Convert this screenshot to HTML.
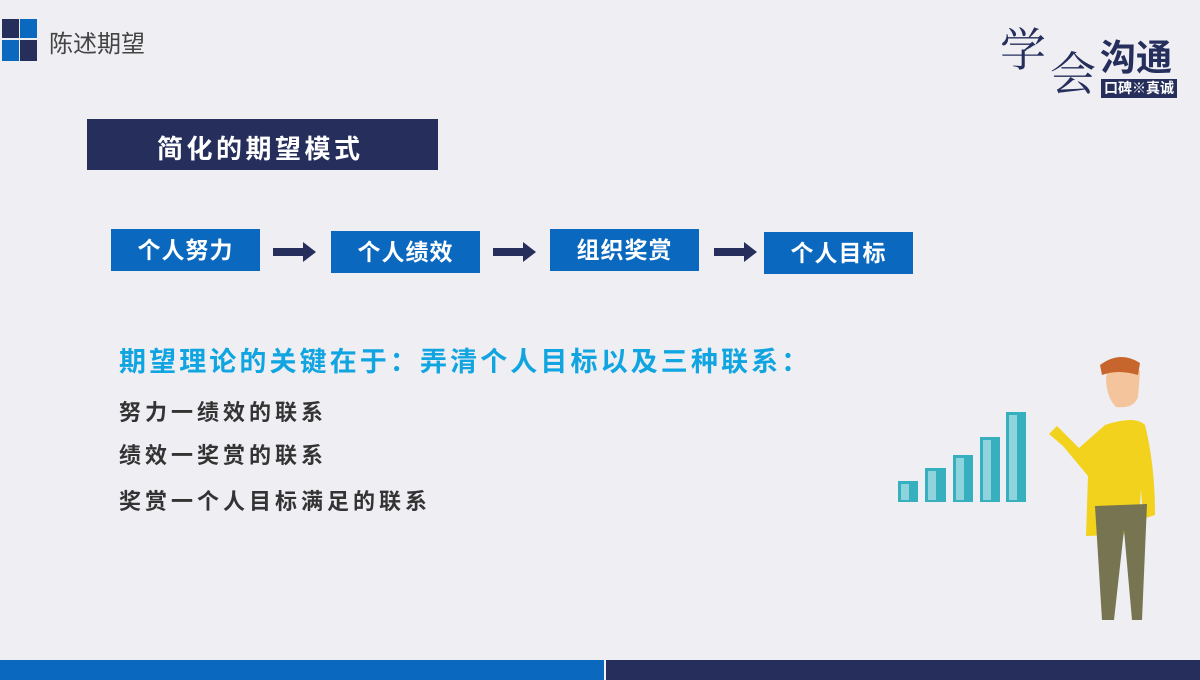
<!DOCTYPE html>
<html><head><meta charset="utf-8"><style>
body{margin:0;width:1200px;height:680px;overflow:hidden;background:#eeeef3;position:relative;font-family:"Liberation Sans","Noto Sans CJK SC",sans-serif}
.a{position:absolute}
.box{position:absolute;background:#0b68bf;color:#fff;font-weight:bold;font-size:23px;text-align:center;line-height:42px;width:149px;height:42px;letter-spacing:1px}
.arr{position:absolute;width:43px;height:20px}
.t{position:absolute;left:119px;font-size:22px;font-weight:bold;color:#333;letter-spacing:4px;white-space:nowrap}
</style></head><body>
<div class="a" style="left:2px;top:19px;width:17px;height:19px;background:#262e5c"></div>
<div class="a" style="left:20px;top:19px;width:17px;height:19px;background:#0b68bf"></div>
<div class="a" style="left:2px;top:40px;width:17px;height:21px;background:#0b68bf"></div>
<div class="a" style="left:20px;top:40px;width:17px;height:21px;background:#262e5c"></div>
<div class="a" style="left:49px;top:24px;font-size:24px;color:#444;">陈述期望</div>

<div class="a" style="left:1000px;top:22px;font-family:'Noto Serif CJK SC',serif;font-size:46px;color:#262e5c;line-height:50px">学</div>
<div class="a" style="left:1050px;top:46px;font-family:'Noto Serif CJK SC',serif;font-size:46px;color:#262e5c;line-height:50px">会</div>
<div class="a" style="left:1100px;top:38px;font-size:36px;font-weight:bold;color:#262e5c;line-height:40px">沟通</div>
<div class="a" style="left:1101px;top:79px;width:76px;height:19px;background:#262e5c;color:#fff;font-size:14px;font-weight:bold;text-align:center;line-height:19px">口碑※真诚</div>

<div class="a" style="left:87px;top:119px;width:351px;height:51px;background:#262e5c"></div>
<div class="a" style="left:157px;top:129px;color:#fff;font-size:26px;font-weight:bold;letter-spacing:3.5px">简化的期望模式</div>

<div class="box" style="left:111px;top:229px">个人努力</div>
<div class="box" style="left:331px;top:231px">个人绩效</div>
<div class="box" style="left:550px;top:229px">组织奖赏</div>
<div class="box" style="left:764px;top:232px">个人目标</div>
<svg class="arr" style="left:273px;top:242px" viewBox="0 0 43 20"><path d="M0 6H30V0L43 10L30 20V14H0Z" fill="#262e5c"/></svg>
<svg class="arr" style="left:493px;top:242px" viewBox="0 0 43 20"><path d="M0 6H30V0L43 10L30 20V14H0Z" fill="#262e5c"/></svg>
<svg class="arr" style="left:714px;top:242px" viewBox="0 0 43 20"><path d="M0 6H30V0L43 10L30 20V14H0Z" fill="#262e5c"/></svg>

<div class="a" style="left:119px;top:340px;font-size:27px;font-weight:bold;color:#10a5e0;letter-spacing:3.1px;white-space:nowrap">期望理论的关键在于：弄清个人目标以及三种联系：</div>
<div class="t" style="top:395px">努力一绩效的联系</div>
<div class="t" style="top:438px">绩效一奖赏的联系</div>
<div class="t" style="top:484px">奖赏一个人目标满足的联系</div>

<svg class="a" style="left:880px;top:350px" width="300" height="310" viewBox="0 0 300 310">
<g fill="#36b0bf"><rect x="18" y="131" width="20" height="21"/><rect x="45" y="118" width="21" height="34"/><rect x="73" y="105" width="20" height="47"/><rect x="100" y="87" width="20" height="65"/><rect x="126" y="62" width="20" height="90"/></g>
<g fill="#8fd3dc"><rect x="21" y="134" width="8" height="16"/><rect x="48" y="121" width="8" height="29"/><rect x="76" y="108" width="8" height="42"/><rect x="103" y="90" width="8" height="60"/><rect x="129" y="65" width="8" height="85"/></g>
<path d="M230 10 q22 -6 30 12 l-2 25 q-4 12 -22 10 q-10 -10 -10 -30z" fill="#f4c59c"/>
<path d="M220 15 q20 -15 40 -2 l-2 12 q-20 -6 -36 0z" fill="#c7652d"/>
<path d="M225 75 q30 -10 40 0 q10 40 10 90 l-12 4 l-2 -30 l-3 45 l-52 2 l2 -60 l-25 -30 l-14 -12 l8 -8 l22 22z" fill="#f2d21c"/>
<path d="M215 156 l52 -2 l-5 116 l-10 0 l-8 -90 l-10 90 l-12 0z" fill="#767451"/>
</svg>

<div class="a" style="left:0;top:660px;width:604px;height:20px;background:#0b68bf"></div>
<div class="a" style="left:606px;top:660px;width:594px;height:20px;background:#262e5c"></div>
</body></html>
